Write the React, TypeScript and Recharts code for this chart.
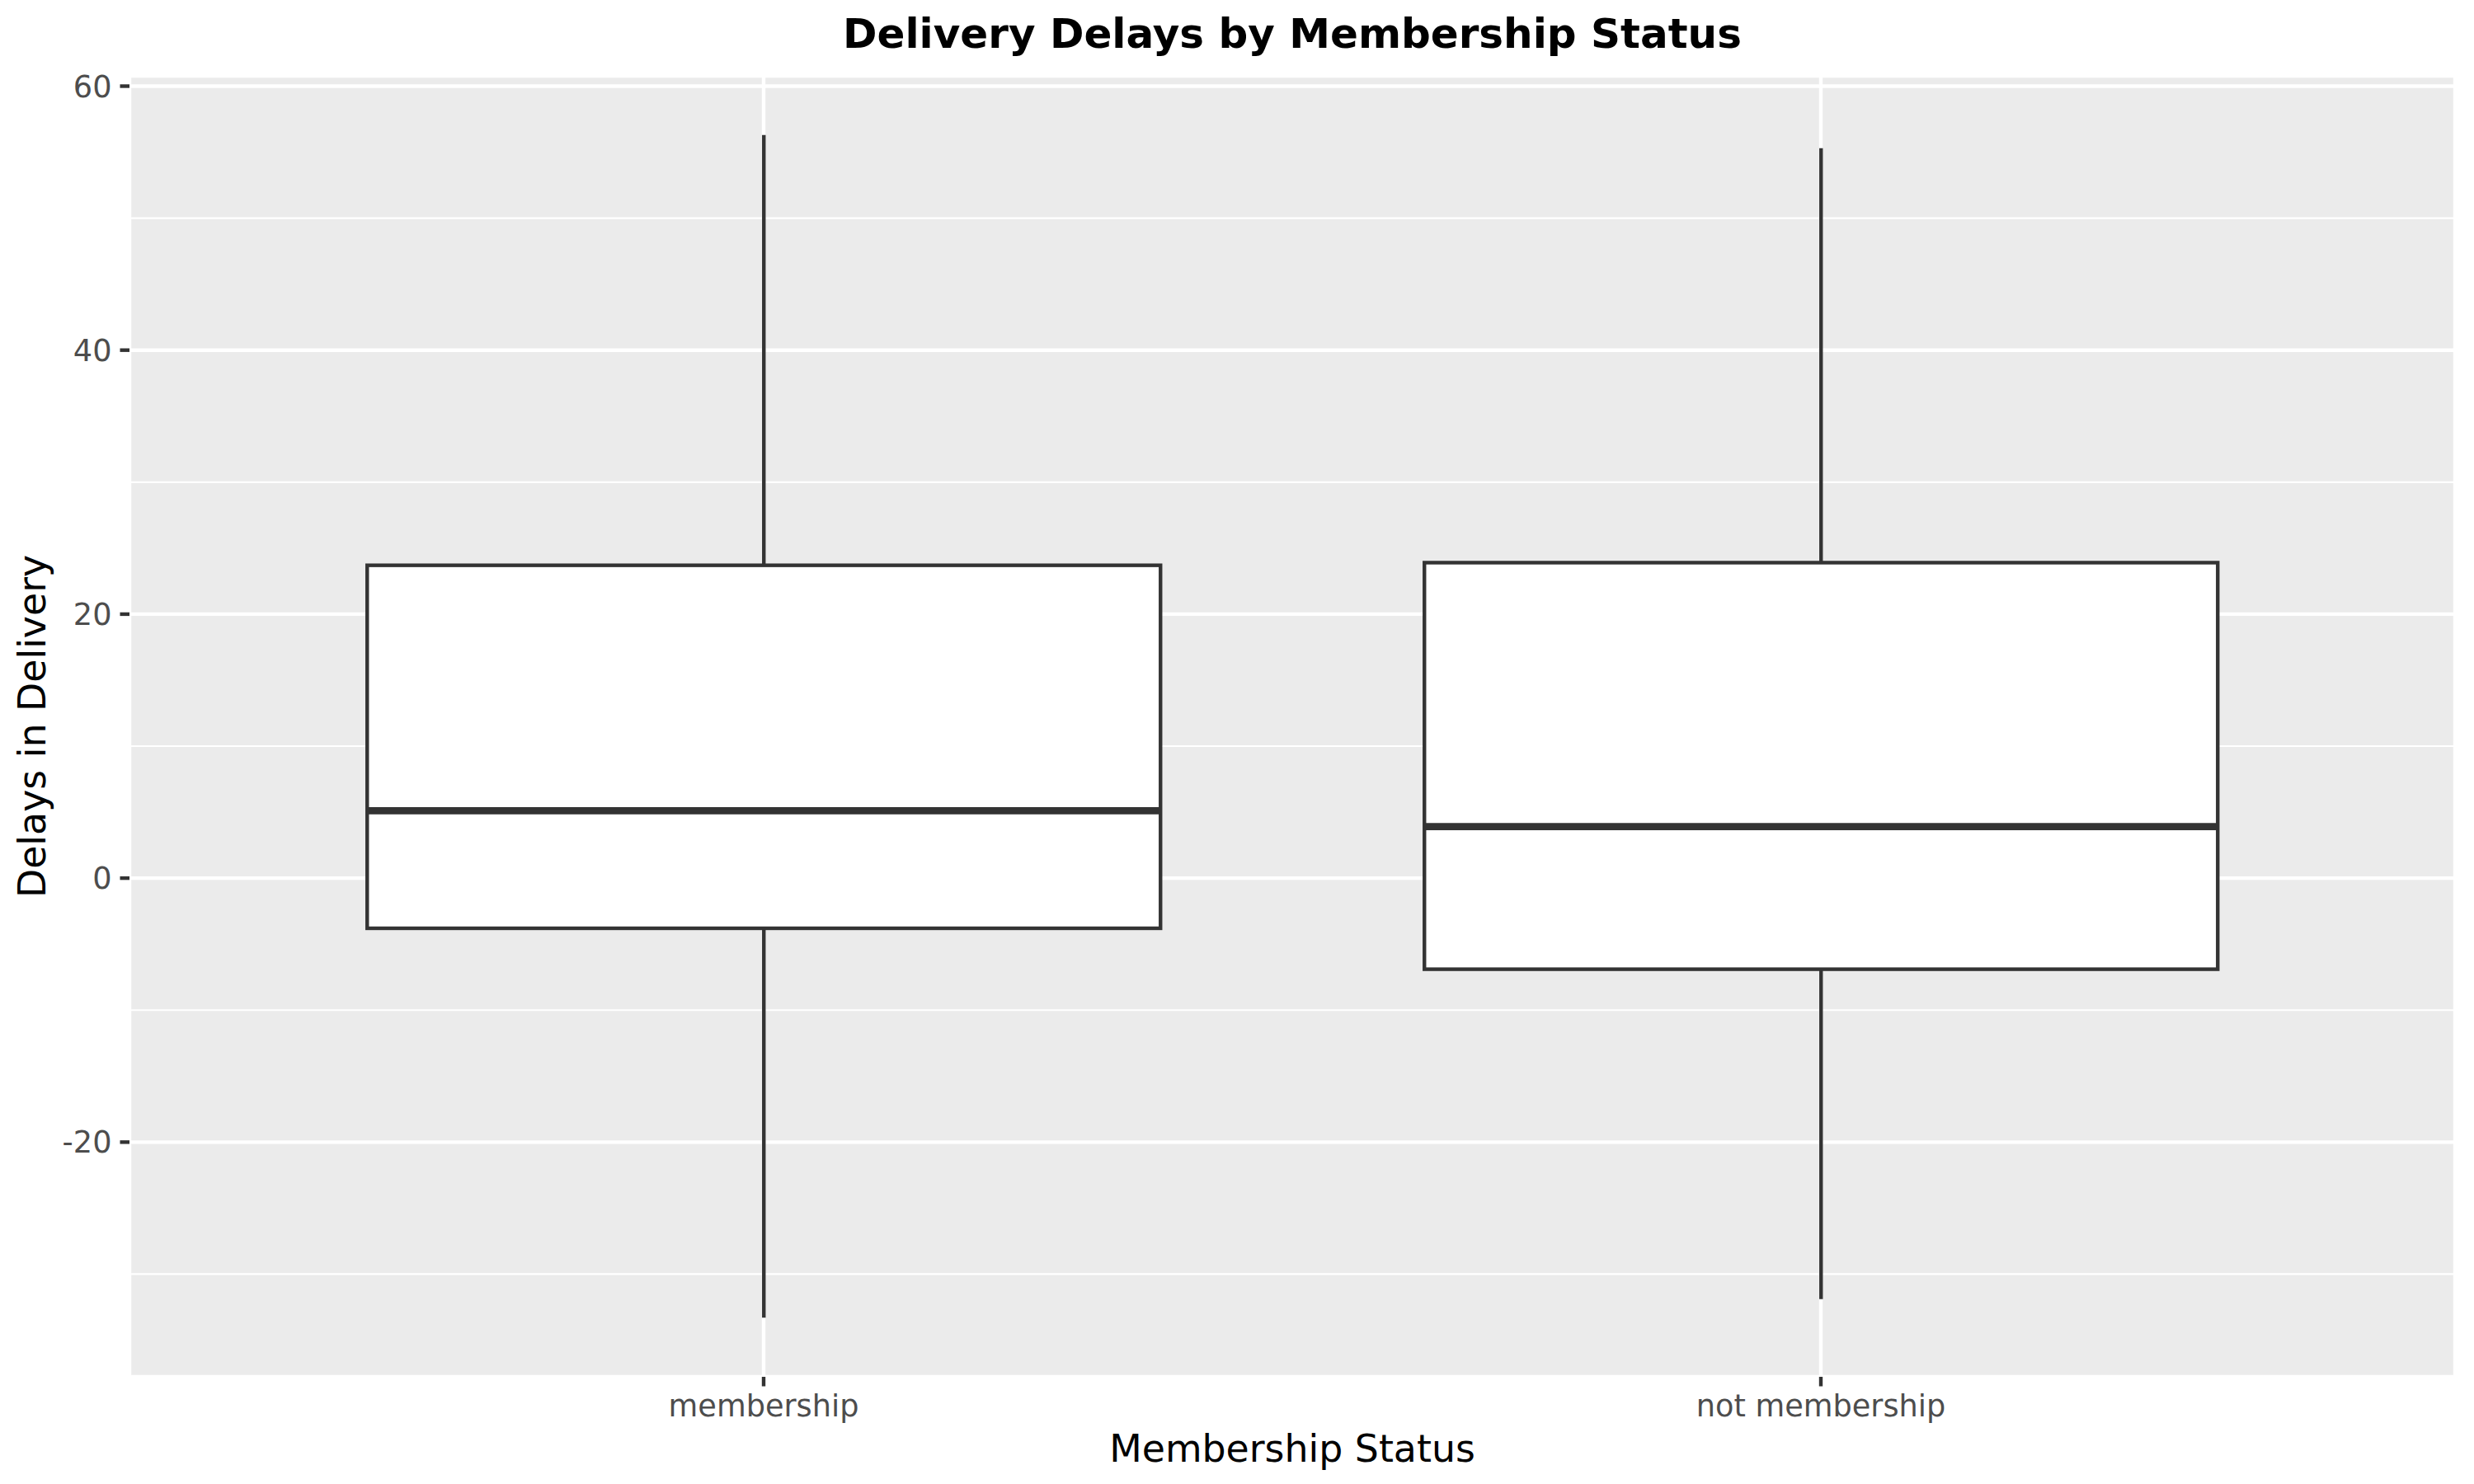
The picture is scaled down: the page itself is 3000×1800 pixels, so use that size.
import React from 'react';
import { ComposedChart, Bar, XAxis, YAxis, CartesianGrid, Label } from 'recharts';

// ---- data ----
const categories = ['membership', 'not membership'];
const lowerWhisker = [-33.3, -31.9];
const lowerQuartile = [-3.8, -6.9];
const medians = [5.1, 3.9];
const upperQuartile = [23.7, 23.9];
const upperWhisker = [56.3, 55.3];
const majorTicks = [-20, 0, 20, 40, 60];
const minorTicks = [-30, -10, 10, 30, 50];

const data = categories.map((c, i) => ({
  status: c,
  box: [lowerQuartile[i], upperQuartile[i]],
  lo: lowerWhisker[i],
  q1: lowerQuartile[i],
  med: medians[i],
  q3: upperQuartile[i],
  hi: upperWhisker[i],
}));

// ggplot-style 5% expansion of the continuous axis
const dataMin = Math.min(...lowerWhisker);
const dataMax = Math.max(...upperWhisker);
const span = dataMax - dataMin;
const yDomain: [number, number] = [dataMin - span * 0.05, dataMax + span * 0.05];

const FONT = 'DejaVu Sans';
const DARK = '#333333';
const LINE = 4.4;

const BoxShape = (props: any) => {
  const { x, y, width, height, payload } = props;
  const h = Math.abs(height);
  const top = height >= 0 ? y : y + height;
  const unit = h / (payload.q3 - payload.q1);
  const cx = x + width / 2;
  const yHi = top - (payload.hi - payload.q3) * unit;
  const yLo = top + h + (payload.q1 - payload.lo) * unit;
  const yMed = top + (payload.q3 - payload.med) * unit;
  return (
    <g>
      <line x1={cx} x2={cx} y1={yHi} y2={top} stroke={DARK} strokeWidth={LINE} />
      <line x1={cx} x2={cx} y1={top + h} y2={yLo} stroke={DARK} strokeWidth={LINE} />
      <rect x={x} y={top} width={width} height={h} fill="#FFFFFF" stroke={DARK} strokeWidth={LINE} />
      <line x1={x} x2={x + width} y1={yMed} y2={yMed} stroke={DARK} strokeWidth={LINE * 2} />
    </g>
  );
};

const minorGen = (args: any) => {
  const yAxis = args && args.yAxis;
  if (yAxis && typeof yAxis.scale === 'function') {
    return minorTicks.map((v) => yAxis.scale(v));
  }
  const off = args.offset;
  return minorTicks.map(
    (v) => off.top + (off.height * (yDomain[1] - v)) / (yDomain[1] - yDomain[0])
  );
};

export default function App() {
  return (
    <div style={{ position: 'absolute', left: 0, top: 0, width: 3000, height: 1800, background: '#FFFFFF' }}>
      <ComposedChart
        width={3000}
        height={1800}
        data={data}
        margin={{ top: 92, right: 23, left: 0, bottom: 0 }}
        barCategoryGap="12.5%"
        style={{ fontFamily: FONT }}
      >
        <CartesianGrid fill="#EBEBEB" stroke="#FFFFFF" strokeWidth={LINE} />
        <CartesianGrid
          vertical={false}
          stroke="#FFFFFF"
          strokeWidth={LINE / 2}
          horizontalCoordinatesGenerator={minorGen}
        />
        <XAxis
          dataKey="status"
          type="category"
          height={130}
          padding={{ left: 128, right: 128 }}
          axisLine={false}
          tickSize={11.5}
          tickMargin={10}
          tickLine={{ stroke: DARK, strokeWidth: LINE }}
          tick={{ fill: '#4D4D4D', fontSize: 36.7, fontFamily: FONT }}
          interval={0}
        >
          <Label
            value="Membership Status"
            position="insideBottom"
            offset={27}
            fill="#000000"
            fontSize={45.8}
            fontFamily={FONT}
          />
        </XAxis>
        <YAxis
          type="number"
          width={157}
          domain={yDomain}
          allowDataOverflow
          ticks={majorTicks}
          axisLine={false}
          tickSize={11.5}
          tickMargin={10}
          tickLine={{ stroke: DARK, strokeWidth: LINE }}
          tick={{ fill: '#4D4D4D', fontSize: 36.7, fontFamily: FONT }}
        >
          <Label
            value="Delays in Delivery"
            angle={-90}
            position="insideLeft"
            offset={39}
            fill="#000000"
            fontSize={45.8}
            fontFamily={FONT}
            style={{ textAnchor: 'middle' }}
          />
        </YAxis>
        <Bar dataKey="box" shape={BoxShape} isAnimationActive={false} />
      </ComposedChart>
      <svg
        width={3000}
        height={90}
        style={{ position: 'absolute', left: 0, top: 0, pointerEvents: 'none' }}
      >
        <text
          x={1567}
          y={58}
          textAnchor="middle"
          fontFamily={FONT}
          fontWeight="bold"
          fontSize={50}
          fill="#000000"
        >
          Delivery Delays by Membership Status
        </text>
      </svg>
    </div>
  );
}
